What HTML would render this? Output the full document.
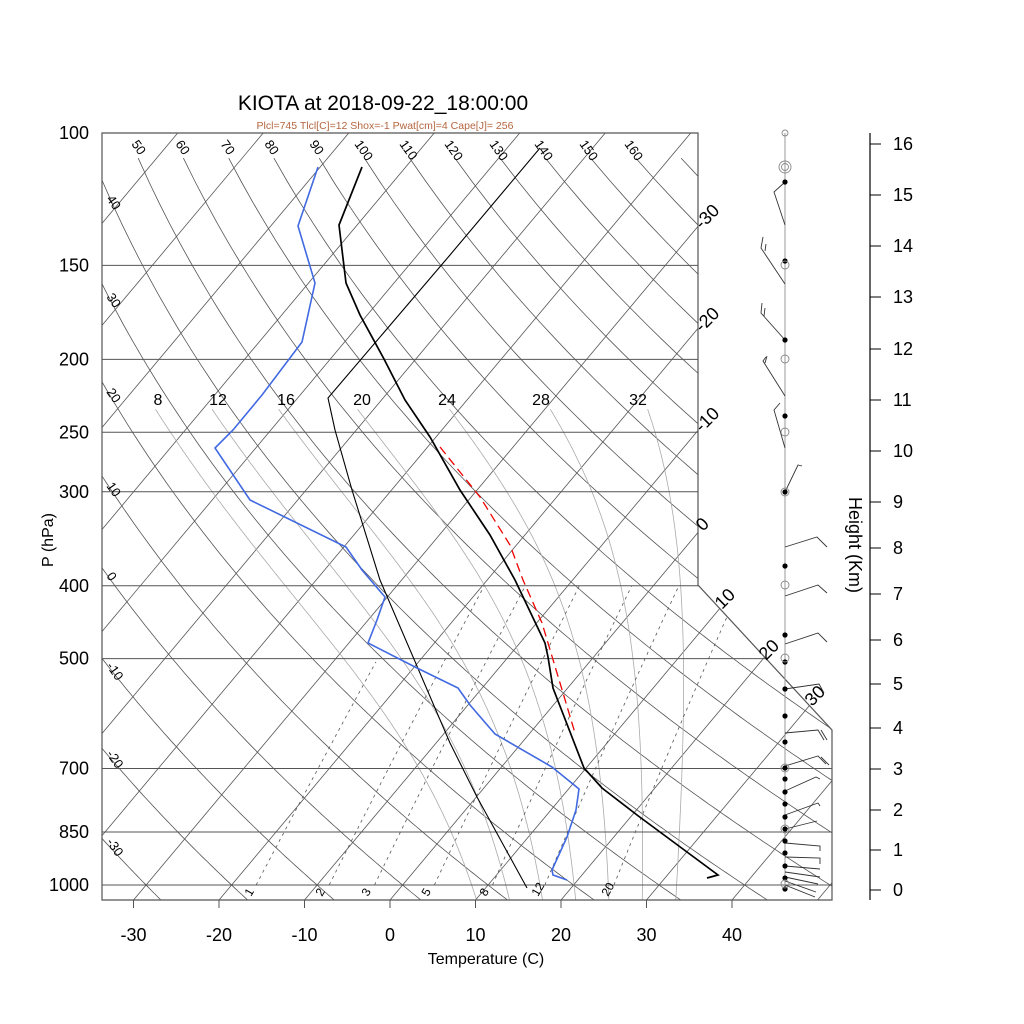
<!DOCTYPE html>
<html><head><meta charset="utf-8"><style>
html,body{margin:0;padding:0;background:#fff;}
svg{display:block;font-family:"Liberation Sans",sans-serif;}
</style></head><body>
<svg id="s" width="1024" height="1024" viewBox="0 0 1024 1024" xmlns="http://www.w3.org/2000/svg">
<defs><clipPath id="c"><polygon points="102,133 698,133 698,585 832,730 832,900 102,900"/></clipPath></defs>
<g id="grid" clip-path="url(#c)"></g>
<g id="data" clip-path="url(#c)">
<polyline fill="none" stroke="#000" stroke-width="1.1" points="540,148 450,255 328,398 335,430 352,490 380,580 450,743 477,797 527,888"/>
<polyline fill="none" stroke="#e00" stroke-width="1.3" stroke-dasharray="9,5" points="440,447 480,497 510,545 523,580 542,623 575,733"/>
<polyline fill="none" stroke="#4169e1" stroke-width="1.6" points="318,167 298,226 315,283 302,342 262,395 233,430 215,448 250,500 346,547 362,570 385,597 377,620 368,643 417,668 458,688 470,705 495,734 552,767 579,789 576,810 567,837 552,870 553,875 567,880"/>
<polyline fill="none" stroke="#000" stroke-width="1.7" points="362,167 339,225 346,283 360,315 384,359 405,400 430,437 460,490 490,535 515,580 545,643 548,657 553,688 584,768 602,788 637,815 718,875 707,878"/>
</g>
<polygon points="102,133 698,133 698,585 832,730 832,900 102,900" fill="none" stroke="#555" stroke-width="1.2"/>
<g id="lab"></g>
<text x="383" y="110" font-size="21" text-anchor="middle">KIOTA at 2018-09-22_18:00:00</text>
<text x="385" y="129" font-size="10.5" fill="#b5653f" text-anchor="middle">Plcl=745 Tlcl[C]=12 Shox=-1 Pwat[cm]=4 Cape[J]= 256</text>
<text x="486" y="964" font-size="16" text-anchor="middle">Temperature (C)</text>
<text transform="translate(53,540) rotate(-90)" font-size="16" text-anchor="middle">P (hPa)</text>
<text transform="translate(849,545) rotate(90)" font-size="18" text-anchor="middle">Height (Km)</text>
<line x1="785" y1="133" x2="785" y2="890" stroke="#999" stroke-width="1"/>
<g id="wind" fill="none" stroke="#333" stroke-width="0.9">
<polyline points="785,225 774,192 785,182"/>
<polyline points="785,284 761,248 763,237"/><polyline points="765,251 766,244"/>
<polyline points="785,340 761,313 762,303"/><polyline points="764,316 765,308"/>
<polyline points="785,396 763,361 766,357"/><polyline points="765,363 767,356"/>
<polyline points="785,448 774,410 780,403"/>
<polyline points="785,492 798,465 802,466"/>
<polyline points="785,547 817,537 827,547"/>
<polyline points="785,596 818,585 827,593"/>
<polyline points="785,644 818,633 827,642"/>
<polyline points="785,689 819,684 824,693"/>
<polyline points="785,733 818,730 824,740"/><polyline points="821,730 827,740"/>
<polyline points="785,766 818,756 826,764"/><polyline points="821,757 829,765"/>
<polyline points="785,791 816,777 820,779"/>
<polyline points="785,815 818,803 820,806"/>
<polyline points="785,829 817,821"/>
<polyline points="785,843 820,846 820,851"/>
<polyline points="785,857 820,858 820,864"/>
<polyline points="785,866 820,869"/>
<polyline points="785,872 820,877"/>
<polyline points="785,877 818,884"/>
<polyline points="785,881 816,892"/>
<polyline points="785,885 815,897"/>
</g>
<g id="dots" fill="#000"></g>
<g fill="none" stroke="#888" stroke-width="0.9">
<circle cx="785" cy="133" r="3"/><circle cx="785" cy="167" r="6"/><circle cx="785" cy="167" r="3.5"/>
<circle cx="785" cy="265" r="4"/><circle cx="785" cy="359" r="4"/><circle cx="785" cy="432" r="4"/>
<circle cx="785" cy="492" r="4"/><circle cx="785" cy="585" r="4"/><circle cx="785" cy="658" r="4"/>
<circle cx="785" cy="768" r="4"/><circle cx="785" cy="829" r="4"/><circle cx="785" cy="884" r="4"/>
</g>
<line x1="870" y1="133" x2="870" y2="900" stroke="#000" stroke-width="1.2"/>
<g id="hax"></g>
</svg>
<script>
(function(){
var NS="http://www.w3.org/2000/svg";
function el(par,tag,at,txt){var e=document.createElementNS(NS,tag);for(var k in at)e.setAttribute(k,at[k]);if(txt!==undefined)e.textContent=txt;document.getElementById(par).appendChild(e);return e;}
function Y(p){return 133+326.6*Math.log(p/100);}
function X(T,p){return 390+8.55*T+0.838*(900-Y(p));}
function pl(par,pts,st){el(par,"polyline",Object.assign({points:pts.map(function(a){return a[0].toFixed(1)+","+a[1].toFixed(1);}).join(" "),fill:"none"},st));}
for(var T=-120;T<=60;T+=10){pl("grid",[[X(T,1060),Y(1060)],[X(T,95),Y(95)]],{stroke:"#555","stroke-width":0.8});}
for(var th=-40;th<=180;th+=10){var pts=[];for(var p=1060;p>=108;p-=8){var Tk=(th+273.15)*Math.pow(p/1000,0.286);pts.push([X(Tk-273.15,p),Y(p)]);}pl("grid",pts,{stroke:"#555","stroke-width":0.8});}
function es(t){return 6.112*Math.exp(17.67*t/(t+243.5));}
function dT(Tk,p){var e=es(Tk-273.15),rs=0.622*e/(p-e);return (287*Tk+2.5e6*rs)/(1005+2.5e6*2.5e6*rs*0.622/(287*Tk*Tk));}
[8,12,16,20,24,28,32].forEach(function(t0){
 var pts=[],Tk=t0+273.15,lp=Math.log(1000);
 var Td=Tk,lpd=lp;while(lpd<Math.log(1060)){Td+=dT(Td,Math.exp(lpd))*0.005;lpd+=0.005;}
 pts.push([X(Td-273.15,1060),Y(1060)]);
 lpd=Math.log(1060);var Tx=Td;
 while(Math.exp(lpd)>232){var p=Math.exp(lpd);pts.push([X(Tx-273.15,p),Y(p)]);Tx-=dT(Tx,p)*0.005;lpd-=0.005;}
 pl("grid",pts,{stroke:"#aaa","stroke-width":0.8});
});
[1,2,3,5,8,12,20].forEach(function(w){var pts=[];for(var p=1000;p>=400;p-=5){var e=w*p/(622+w),l=Math.log(e/6.112),td=243.5*l/(17.67-l);if(td<-25)break;pts.push([X(td,p),Y(p)]);}
 pl("grid",pts,{stroke:"#555","stroke-width":0.8,"stroke-dasharray":"3,4"});});
[100,150,200,250,300,400,500,700,850,1000].forEach(function(p){var y=Y(p);el("grid","line",{x1:102,x2:840,y1:y,y2:y,stroke:"#555","stroke-width":1});
 el("lab","text",{x:89,y:y+6,"font-size":18,"text-anchor":"end"},String(p));});
for(var t=-30;t<=40;t+=10){var x=390+8.55*t;el("lab","line",{x1:x,x2:x,y1:900,y2:908,stroke:"#555","stroke-width":1});
 el("lab","text",{x:x,y:941,"font-size":18,"text-anchor":"middle"},String(t));}
var tl=[[50,137],[60,181],[70,226],[80,270],[90,315],[100,360],[110,405],[120,450],[130,495],[140,540],[150,585],[160,630]];
tl.forEach(function(a){el("lab","text",{transform:"translate("+(a[1]-6)+",144) rotate(55)","font-size":13},String(a[0]));});
var ll=[[40,205],[30,303],[20,398],[10,492],[0,582],[-10,672],[-20,760],[-30,848]];
ll.forEach(function(a){el("lab","text",{transform:"translate(106,"+(a[1]-6)+") rotate(55)","font-size":13},String(a[0]));});
var rl=[[-30,702,230],[-20,702,333],[-10,702,433],[0,703,532],[10,722,610],[20,766,661],[30,812,707]];
rl.forEach(function(a){el("lab","text",{transform:"translate("+a[1]+","+a[2]+") rotate(-45)","font-size":18},String(a[0]));});
[[8,158],[12,218],[16,286],[20,362],[24,447],[28,541],[32,638]].forEach(function(a){el("lab","text",{x:a[1],y:405,"font-size":16,"text-anchor":"middle"},String(a[0]));});
[[1,255],[2,326],[3,372],[5,432],[8,490],[12,542],[20,612]].forEach(function(a){el("lab","text",{transform:"translate("+(a[1]-4)+",897) rotate(-60)","font-size":12},String(a[0]));});
var hy=[890,850,810,769,728,684,640,594,548,502,451,400,349,297,246,195,144];
hy.forEach(function(y,i){el("hax","line",{x1:870,x2:881,y1:y,y2:y,stroke:"#000","stroke-width":1});el("hax","text",{x:893,y:y+6,"font-size":18},String(i));});
[182,261,340,416,492,566,635,662,689,716,742,768,779,792,804,817,829,841,853,866,878,889].forEach(function(y){el("dots","circle",{cx:785,cy:y,r:2.6});});
})();
</script>
</body></html>
